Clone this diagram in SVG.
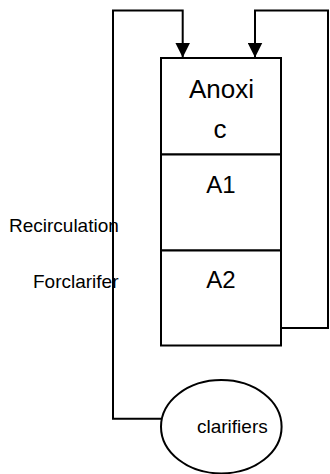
<svg xmlns="http://www.w3.org/2000/svg" width="330" height="474" viewBox="0 0 330 474">
<style>
.ln{fill:none;stroke:#000;stroke-width:2}
.bx{fill:#fff;stroke:#000;stroke-width:2}
text{font-family:"Liberation Sans",Arial,sans-serif;fill:#000}
.big{font-size:26px;text-anchor:middle}
.mid{font-size:24px;text-anchor:middle}
.sm{font-size:19px}
</style>
<defs>
<marker id="ah" markerWidth="15" markerHeight="15" refX="15" refY="7.5" orient="auto" markerUnits="userSpaceOnUse">
<path d="M0,0 L15,7.5 L0,15 Z" fill="#000"/>
</marker>
</defs>
<rect width="330" height="474" fill="#fff"/>
<g id="connectors">
<path class="ln" d="M161,418.7 H113 V10.5 H182.7 V57.5" marker-end="url(#ah)"/>
<path class="ln" d="M281,328 H328 V10.5 H255 V57.5" marker-end="url(#ah)"/>
</g>
<g id="anoxic">
<rect class="bx" x="161" y="58" width="120" height="96.5"/>
<text class="big" x="221.5" y="98">Anoxi</text>
<text class="big" x="220" y="138">c</text>
</g>
<g id="a1">
<rect class="bx" x="161" y="154.5" width="120" height="96"/>
<text class="mid" x="221" y="193">A1</text>
</g>
<g id="a2">
<rect class="bx" x="161" y="250.5" width="120" height="95"/>
<text class="mid" x="221" y="288">A2</text>
</g>
<g id="clarifiers">
<ellipse class="bx" cx="221.3" cy="426.7" rx="60.3" ry="46.7"/>
<text class="sm" x="197" y="433">clarifiers</text>
</g>
<g id="labels">
<text class="sm" x="9" y="232">Recirculation</text>
<text class="sm" x="33" y="288">Forclarifer</text>
</g>
</svg>
